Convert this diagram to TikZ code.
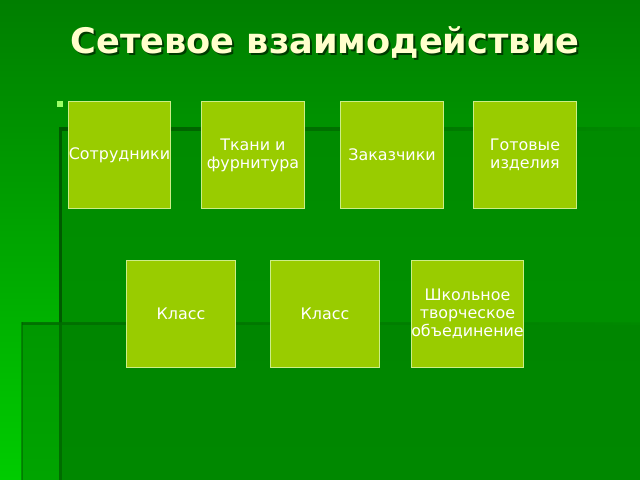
\documentclass[tikz,border=0pt]{standalone}
\usepackage{fontspec}
\setmainfont{DejaVu Sans}
\usepackage{xcolor}
\usepackage{tikz}
\usepackage{tkz-graph}

\definecolor{bgtop}{HTML}{007E00}
\definecolor{bgbot}{HTML}{00CC00}
\definecolor{bgmid}{HTML}{008A00}
\definecolor{edgedark}{HTML}{005A00}
\definecolor{boxfill}{HTML}{99CC00}
\definecolor{boxline}{HTML}{CCEE88}
\definecolor{titlecol}{HTML}{FFFFCC}
\definecolor{bulletcol}{HTML}{99FF66}

\tikzset{
  VertexStyle/.style={rectangle, draw=boxline, line width=0.7pt, fill=boxfill,
    text=white, align=center, inner sep=0pt,
    font=\fontsize{11.3}{13}\selectfont,
    minimum width=2.55cm, minimum height=2.65cm},
  wide/.style={minimum width=2.7cm},
  titletext/.style={font=\fontsize{25}{28}\selectfont\bfseries},
  bulletmark/.style={rectangle, fill=bulletcol, inner sep=0pt, minimum size=0.15cm}
}

\begin{document}
\begin{tikzpicture}[x=0.025cm,y=-0.025cm]
\useasboundingbox (0,0) rectangle (640,480);

% background
\shade[top color=bgtop, bottom color=bgbot] (0,0) rectangle (640,480);
\fill[bgmid, fill opacity=0.85] (60,128) rectangle (640,480);
\shade[left color=edgedark, right color=bgmid] (59,127) rectangle (640,130);
\fill[edgedark] (59,127) rectangle (62,480);
\fill[bgtop, fill opacity=0.5] (22,323) rectangle (640,480);
\shade[left color=edgedark!70!bgmid, right color=bgmid, opacity=0.8] (22,322) rectangle (640,324);
\fill[edgedark, opacity=0.5] (21,322) rectangle (23,480);

% title
\node[titletext, text=black, opacity=0.55] (titleshadow) at (327,44) {Сетевое взаимодействие};
\node[titletext, text=titlecol] (title) at (325,42) {Сетевое взаимодействие};

\node[bulletmark] (bullet) at (60,104) {};

% first row
\Vertex[x=119.5, y=155, L={Сотрудники}]{staff}
\Vertex[x=253, y=155, L={Ткани и\\ фурнитура}]{fabric}
\Vertex[x=392, y=155, L={Заказчики}]{clients}
\Vertex[x=525, y=155, L={Готовые\\ изделия}]{goods}

% second row
{\tikzset{VertexStyle/.append style={wide}}
\Vertex[x=181, y=314, L={Класс}]{classA}
\Vertex[x=325, y=314, L={Класс}]{classB}
\Vertex[x=467.5, y=314, L={Школьное\\ творческое\\ объединение}]{club}
}

\end{tikzpicture}
\end{document}
